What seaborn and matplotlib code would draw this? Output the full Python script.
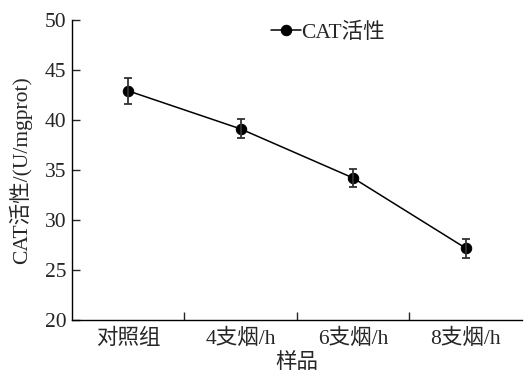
import matplotlib
matplotlib.use("Agg")
import matplotlib.pyplot as plt
import seaborn as sns
import pandas as pd

# data
groups = ["对照组", "4支烟/h", "6支烟/h", "8支烟/h"]
cat_mean = [42.9, 39.1, 34.2, 27.2]
cat_err = [1.3, 0.95, 0.9, 0.95]

sns.set_style("ticks")
plt.rcParams['font.family'] = ['Liberation Serif', 'Noto Sans CJK SC']
plt.rcParams['axes.unicode_minus'] = False

df = pd.DataFrame({"group": groups, "cat": cat_mean, "err": cat_err})

fig = plt.figure(figsize=(5.26, 3.74), dpi=100)
ax = fig.add_axes([0.137, 0.144, 0.855, 0.803])

sns.lineplot(data=df, x="group", y="cat", ax=ax, color="black", lw=1.1,
             marker="o", markersize=7.5, markeredgecolor="black",
             label="CAT活性", sort=False)
ax.errorbar(range(len(groups)), cat_mean, yerr=cat_err, fmt="none",
            ecolor="#333333", elinewidth=1.3, capsize=3, capthick=1.3)

ax.set_xlim(-0.5, 3.5)
ax.set_ylim(20, 50)
ax.set_yticks([20, 25, 30, 35, 40, 45, 50])
ax.set_xticks(range(len(groups)))
ax.set_xticklabels(groups)
ax.set_xticks([0.5, 1.5, 2.5], minor=True)
ax.tick_params(axis="x", which="major", length=0, labelsize=15.5, pad=6)
ax.tick_params(axis="x", which="minor", direction="in", length=6, width=1)
ax.tick_params(axis="y", direction="in", length=6, width=1, labelsize=15.5, pad=4)

sns.despine(ax=ax)
for s in ["left", "bottom"]:
    ax.spines[s].set_linewidth(1.0)
    ax.spines[s].set_color("black")

ax.set_xlabel("样品", fontsize=15.5, labelpad=3)
ax.set_ylabel("CAT活性/(U/mgprot)", fontsize=15.5, labelpad=9)

leg = ax.legend(loc="upper left", bbox_to_anchor=(0.40, 1.055), frameon=False,
                fontsize=15.5, handlelength=1.4, handletextpad=0.0)

fig.savefig("out.png", dpi=100)
